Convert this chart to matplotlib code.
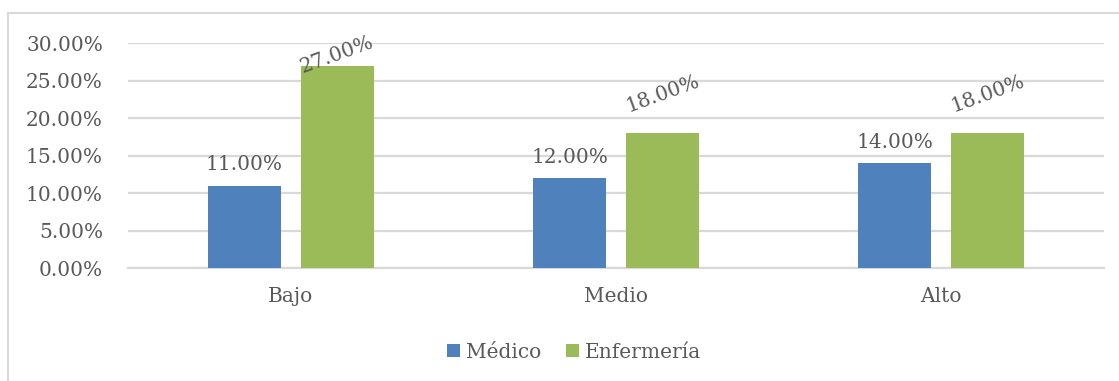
import numpy as np
import matplotlib
matplotlib.use("Agg")
import matplotlib.pyplot as plt
from matplotlib.lines import Line2D
from matplotlib.ticker import PercentFormatter

# datos de la grafica
niveles = ["Bajo", "Medio", "Alto"]
medico = [11.0, 12.0, 14.0]
enfermeria = [27.0, 18.0, 18.0]

azul = "#4F81BD"
verde = "#9BBB59"
gris_txt = "#595959"
gris_lin = "#D9D9D9"

plt.rcParams["font.family"] = ["DejaVu Serif"]

fig = plt.figure(figsize=(11.19, 3.81), dpi=100)
ax = fig.add_axes([128 / 1119, 1 - 268 / 381, (1104 - 128) / 1119, (268 - 43) / 381])

x = np.arange(len(niveles))
ancho = 0.224
b1 = ax.bar(x - 0.143, [v / 100 for v in medico], ancho, color=azul, label="Médico", zorder=3)
b2 = ax.bar(x + 0.143, [v / 100 for v in enfermeria], ancho, color=verde, label="Enfermería", zorder=3)

# etiquetas de valor
for xi, v in zip(x - 0.143, medico):
    ax.annotate(f"{v:.2f}%", (xi, v / 100), xytext=(0, 8), textcoords="offset points",
                ha="center", va="bottom", fontsize=14.5, color=gris_txt)
for xi, v in zip(x + 0.143, enfermeria):
    yl = min(v + 5.2, 28.4) / 100
    ax.text(xi, yl, f"{v:.2f}%", ha="center", va="center", rotation=20,
            rotation_mode="anchor", fontsize=14.5, color=gris_txt)

ax.set_xlim(-0.5, 2.5)
ax.set_ylim(0, 0.30)
ax.set_yticks(np.arange(0, 0.301, 0.05))
ax.yaxis.set_major_formatter(PercentFormatter(1.0, decimals=2))
ax.set_xticks(x)
ax.set_xticklabels(niveles)
ax.tick_params(axis="both", length=0, labelsize=14.5, colors=gris_txt)
ax.tick_params(axis="y", pad=18)
ax.tick_params(axis="x", pad=14)
ax.grid(axis="y", color=gris_lin, linewidth=1.6, zorder=0)
for s in ["top", "right", "left"]:
    ax.spines[s].set_visible(False)
ax.spines["bottom"].set_color(gris_lin)
ax.spines["bottom"].set_linewidth(1.6)

leg = fig.legend(handles=[b1, b2], loc="center", bbox_to_anchor=(574 / 1119, 1 - 352 / 381),
                 ncol=2, frameon=False, fontsize=14.5, handlelength=0.65, handleheight=0.65,
                 handletextpad=0.3, columnspacing=1.2)
for t in leg.get_texts():
    t.set_color(gris_txt)

# marco del area del grafico
fig.add_artist(Line2D([8 / 1119, 8 / 1119], [0, 1 - 13 / 381], color=gris_lin, linewidth=1.5))
fig.add_artist(Line2D([8 / 1119, 1], [1 - 13 / 381, 1 - 13 / 381], color=gris_lin, linewidth=1.5))

fig.savefig("out.png", dpi=100, facecolor="white")
